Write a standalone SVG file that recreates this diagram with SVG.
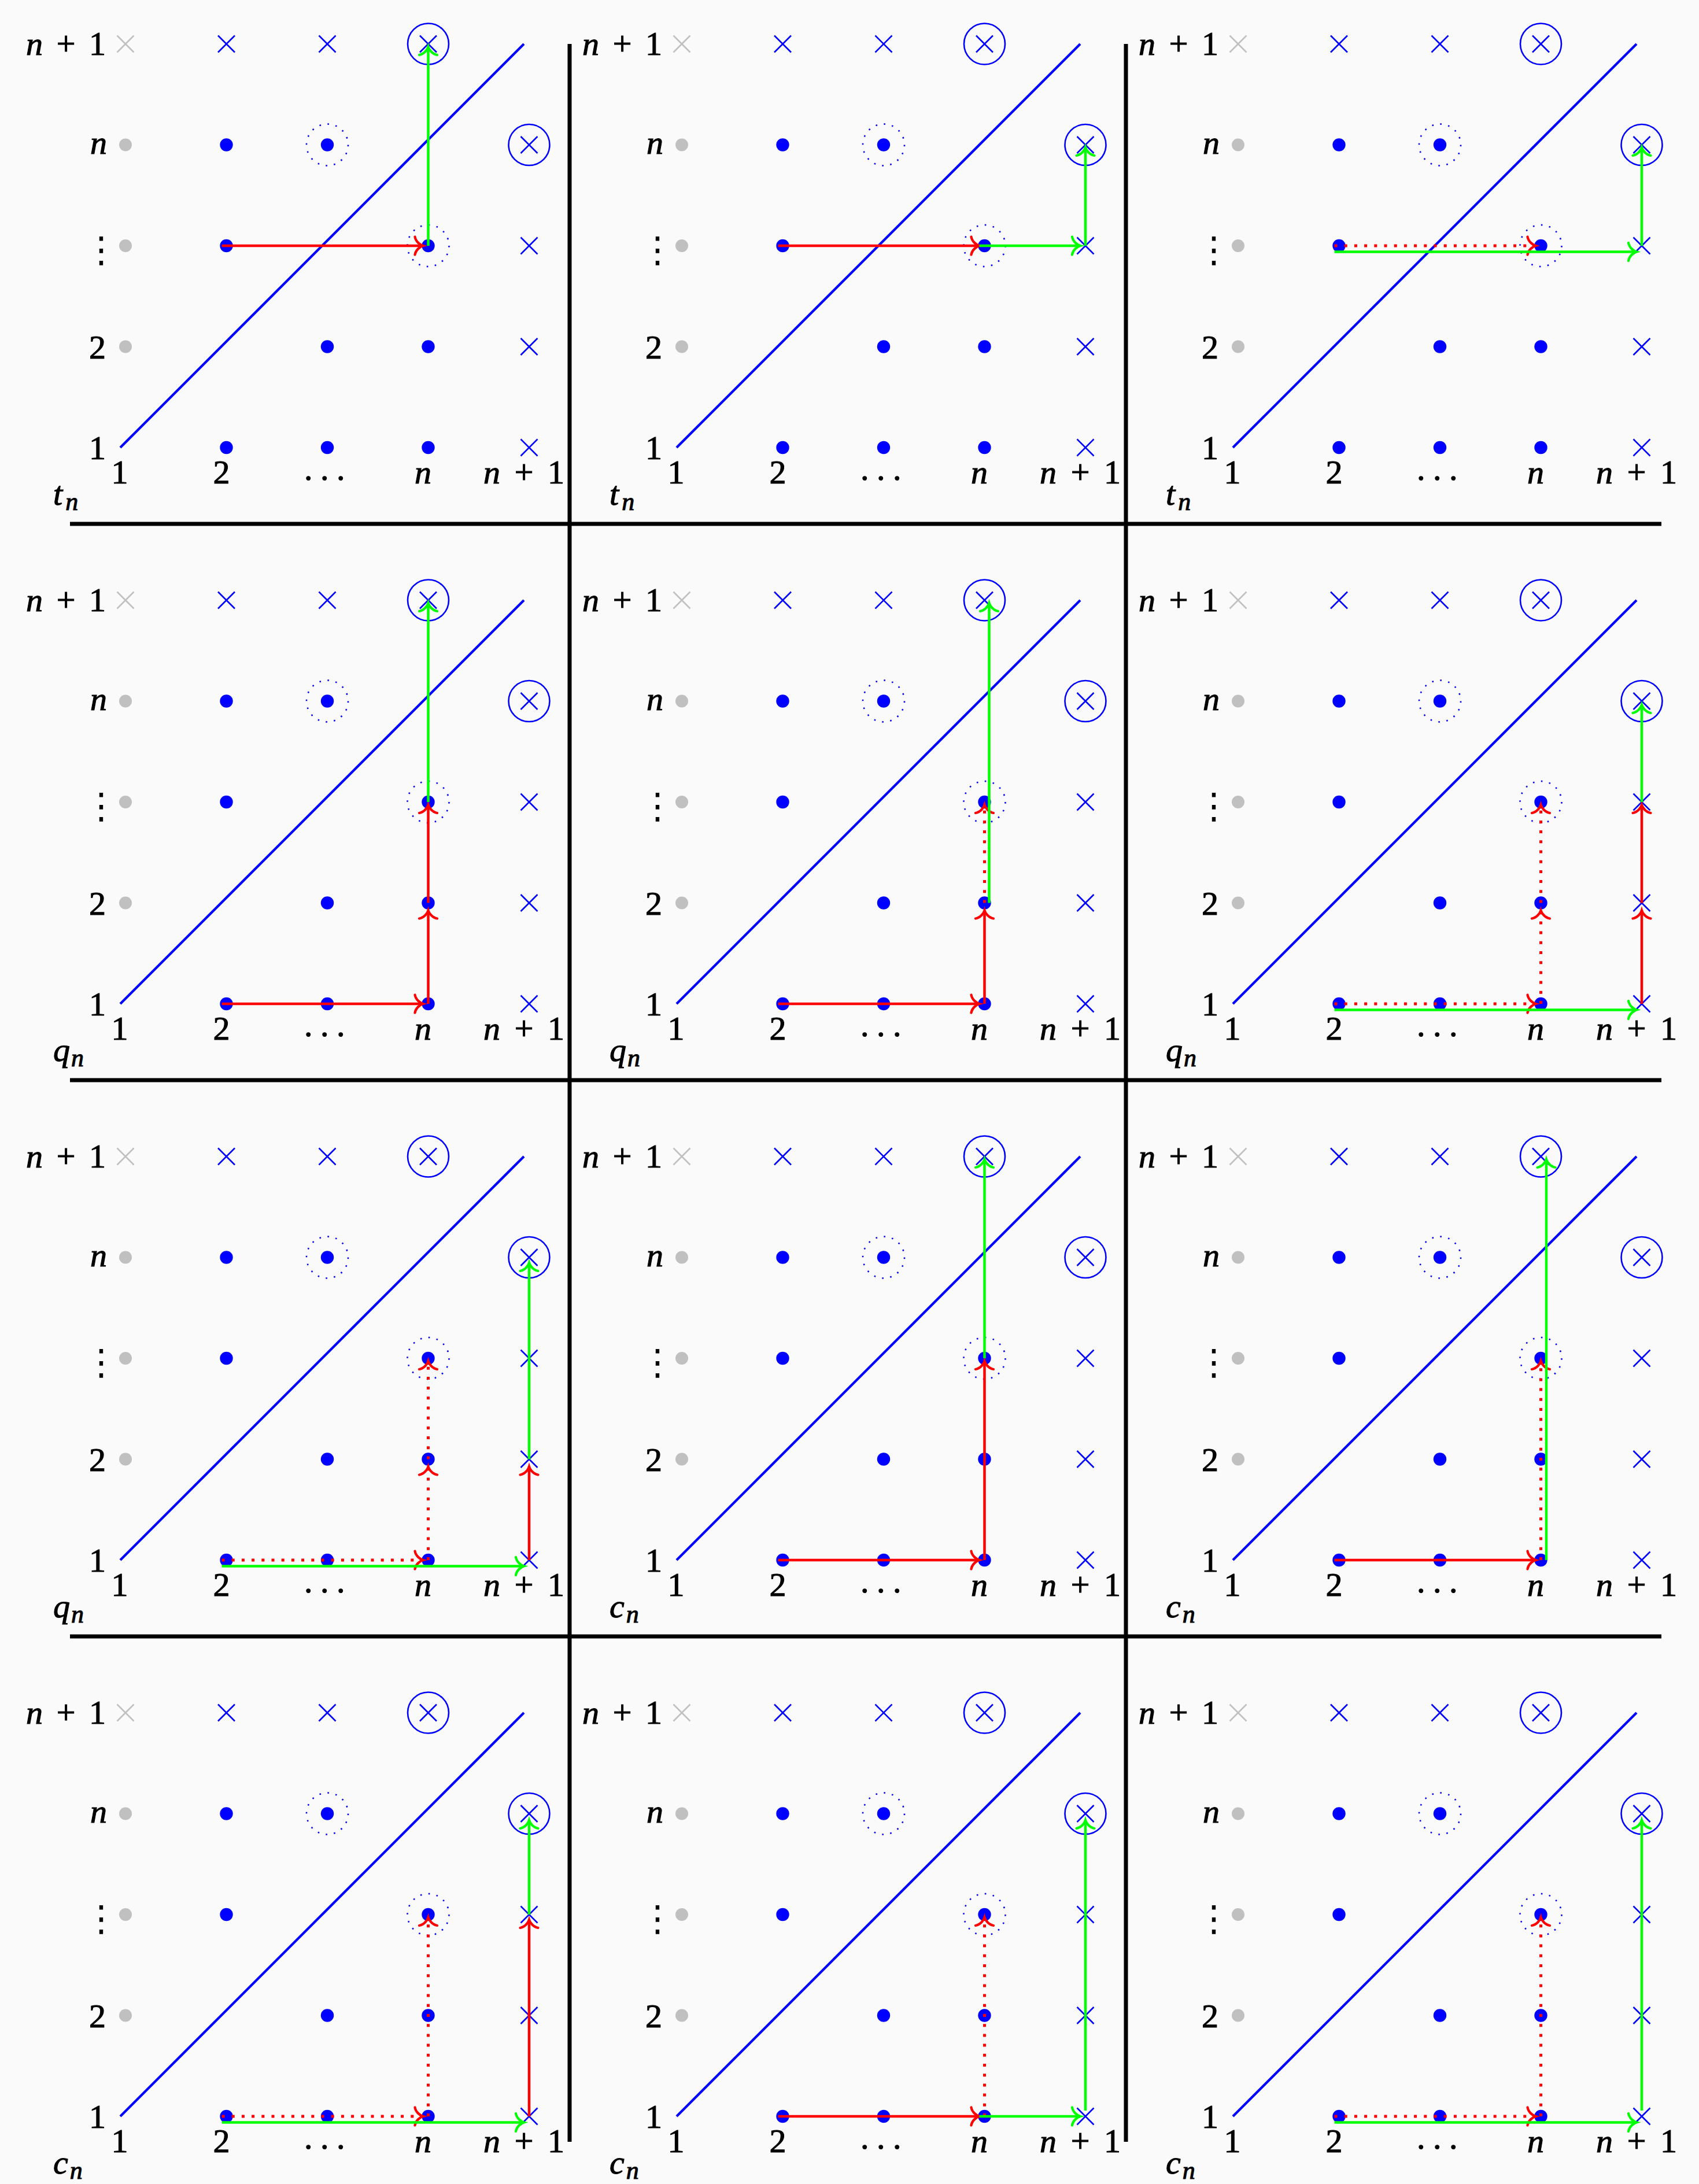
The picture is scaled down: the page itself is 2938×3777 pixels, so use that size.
<svg xmlns="http://www.w3.org/2000/svg" xmlns:xlink="http://www.w3.org/1999/xlink" width="2938" height="3777" viewBox="0 0 2938 3777">
<style>
.bg{fill:#fafafa}
.sep{stroke:#000;stroke-width:7;fill:none}
.diag{stroke:#0000ff;stroke-width:4.3;fill:none}
.bx{stroke:#0000ff;stroke-width:2.6;fill:none}
.gx{stroke:#c0c0c0;stroke-width:2.6;fill:none}
.bd{fill:#0000ff}
.gd{fill:#c0c0c0}
.dc{stroke:#0000ff;stroke-width:2.6;fill:none;stroke-dasharray:2.6 11.54}
.t{font-family:"Liberation Serif","Times New Roman",serif;font-size:58px;fill:#000;stroke:#000;stroke-width:1.1px}
.i{font-style:italic}
.e{text-anchor:end}
.m{text-anchor:middle}
.v{font-family:"DejaVu Sans",sans-serif;font-size:62px;text-anchor:middle;fill:#000}
.dots{letter-spacing:13.5px}
.sub{font-size:44px}
.r{stroke:#ff0000;stroke-width:4.5;fill:none;marker-end:url(#hr)}
.g{stroke:#00ff00;stroke-width:4.5;fill:none;marker-end:url(#hg)}
.d{stroke-width:5;stroke-dasharray:5 12.2}
</style>
<defs>
<marker id="hr" markerUnits="userSpaceOnUse" orient="auto" markerWidth="40" markerHeight="40" viewBox="-20 -20 40 40" refX="0" refY="0" overflow="visible">
<path d="M-14,-15.5 C-12.5,-7 -5,-1.5 0,0 C-5,1.5 -12.5,7 -14,15.5" fill="none" stroke="#ff0000" stroke-width="4.3" stroke-linecap="round" stroke-dasharray="none"/>
</marker>
<marker id="hg" markerUnits="userSpaceOnUse" orient="auto" markerWidth="40" markerHeight="40" viewBox="-20 -20 40 40" refX="0" refY="0" overflow="visible">
<path d="M-14,-15.5 C-12.5,-7 -5,-1.5 0,0 C-5,1.5 -12.5,7 -14,15.5" fill="none" stroke="#00ff00" stroke-width="4.3" stroke-linecap="round" stroke-dasharray="none"/>
</marker>
<g id="marks">
<line class="diag" x1="-9" y1="698" x2="689" y2="0"/>
<path class="gx" d="M-14.5,-14.5l29,29M-14.5,14.5l29,-29"/>
<circle class="gd" cx="0" cy="174.5" r="11"/>
<circle class="gd" cx="0" cy="349" r="11"/>
<circle class="gd" cx="0" cy="523.5" r="11"/>
<path class="bx" d="M160,-14.5l29,29M160,14.5l29,-29M334.5,-14.5l29,29M334.5,14.5l29,-29M509,-14.5l29,29M509,14.5l29,-29M683.5,160l29,29M683.5,189l29,-29M683.5,334.5l29,29M683.5,363.5l29,-29M683.5,509l29,29M683.5,538l29,-29M683.5,683.5l29,29M683.5,712.5l29,-29"/>
<circle class="bx" cx="523.5" cy="0" r="35.5"/>
<circle class="bx" cx="698" cy="174.5" r="35.5"/>
<circle class="bd" cx="174.5" cy="174.5" r="11.2"/>
<circle class="bd" cx="349" cy="174.5" r="11.2"/>
<circle class="bd" cx="174.5" cy="349" r="11.2"/>
<circle class="bd" cx="523.5" cy="349" r="11.2"/>
<circle class="bd" cx="349" cy="523.5" r="11.2"/>
<circle class="bd" cx="523.5" cy="523.5" r="11.2"/>
<circle class="bd" cx="174.5" cy="698" r="11.2"/>
<circle class="bd" cx="349" cy="698" r="11.2"/>
<circle class="bd" cx="523.5" cy="698" r="11.2"/>
<circle class="dc" cx="349" cy="174.5" r="36"/>
<circle class="dc" cx="523.5" cy="349" r="36"/>
</g>
</defs>
<rect class="bg" x="0" y="0" width="2938" height="3777"/>
<g id="separators">
<path class="sep" d="M121,906H2873M121,1868H2873M121,2830H2873M985,76V3704M1947,76V3704"/>
</g>

<g id="panel-1-1" transform="translate(217,76)">
<use href="#marks"/>
<text class="t e" x="-34" y="19" textLength="138"><tspan class="i">n</tspan> + 1</text>
<text class="t i e" x="-32" y="189.5">n</text>
<text class="v" x="-42" y="377">⋮</text>
<text class="t e" x="-34" y="543.5">2</text>
<text class="t e" x="-34" y="718">1</text>
<text class="t m" x="-10" y="760">1</text>
<text class="t m" x="166" y="760">2</text>
<text class="t m dots" x="351" y="754">...</text>
<text class="t i m" x="514.5" y="760">n</text>
<text class="t m" x="689" y="760" textLength="140"><tspan class="i">n</tspan> + 1</text>
<text class="t i" x="-125" y="797">t<tspan class="sub" dx="5" dy="9">n</tspan></text>
</g>
<g id="panel-1-2" transform="translate(1179,76)">
<use href="#marks"/>
<text class="t e" x="-34" y="19" textLength="138"><tspan class="i">n</tspan> + 1</text>
<text class="t i e" x="-32" y="189.5">n</text>
<text class="v" x="-42" y="377">⋮</text>
<text class="t e" x="-34" y="543.5">2</text>
<text class="t e" x="-34" y="718">1</text>
<text class="t m" x="-10" y="760">1</text>
<text class="t m" x="166" y="760">2</text>
<text class="t m dots" x="351" y="754">...</text>
<text class="t i m" x="514.5" y="760">n</text>
<text class="t m" x="689" y="760" textLength="140"><tspan class="i">n</tspan> + 1</text>
<text class="t i" x="-125" y="797">t<tspan class="sub" dx="5" dy="9">n</tspan></text>
</g>
<g id="panel-1-3" transform="translate(2141,76)">
<use href="#marks"/>
<text class="t e" x="-34" y="19" textLength="138"><tspan class="i">n</tspan> + 1</text>
<text class="t i e" x="-32" y="189.5">n</text>
<text class="v" x="-42" y="377">⋮</text>
<text class="t e" x="-34" y="543.5">2</text>
<text class="t e" x="-34" y="718">1</text>
<text class="t m" x="-10" y="760">1</text>
<text class="t m" x="166" y="760">2</text>
<text class="t m dots" x="351" y="754">...</text>
<text class="t i m" x="514.5" y="760">n</text>
<text class="t m" x="689" y="760" textLength="140"><tspan class="i">n</tspan> + 1</text>
<text class="t i" x="-125" y="797">t<tspan class="sub" dx="5" dy="9">n</tspan></text>
</g>

<g id="panel-2-1" transform="translate(217,1038)">
<use href="#marks"/>
<text class="t e" x="-34" y="19" textLength="138"><tspan class="i">n</tspan> + 1</text>
<text class="t i e" x="-32" y="189.5">n</text>
<text class="v" x="-42" y="377">⋮</text>
<text class="t e" x="-34" y="543.5">2</text>
<text class="t e" x="-34" y="718">1</text>
<text class="t m" x="-10" y="760">1</text>
<text class="t m" x="166" y="760">2</text>
<text class="t m dots" x="351" y="754">...</text>
<text class="t i m" x="514.5" y="760">n</text>
<text class="t m" x="689" y="760" textLength="140"><tspan class="i">n</tspan> + 1</text>
<text class="t i" x="-125" y="797">q<tspan class="sub" dx="2" dy="9">n</tspan></text>
</g>
<g id="panel-2-2" transform="translate(1179,1038)">
<use href="#marks"/>
<text class="t e" x="-34" y="19" textLength="138"><tspan class="i">n</tspan> + 1</text>
<text class="t i e" x="-32" y="189.5">n</text>
<text class="v" x="-42" y="377">⋮</text>
<text class="t e" x="-34" y="543.5">2</text>
<text class="t e" x="-34" y="718">1</text>
<text class="t m" x="-10" y="760">1</text>
<text class="t m" x="166" y="760">2</text>
<text class="t m dots" x="351" y="754">...</text>
<text class="t i m" x="514.5" y="760">n</text>
<text class="t m" x="689" y="760" textLength="140"><tspan class="i">n</tspan> + 1</text>
<text class="t i" x="-125" y="797">q<tspan class="sub" dx="2" dy="9">n</tspan></text>
</g>
<g id="panel-2-3" transform="translate(2141,1038)">
<use href="#marks"/>
<text class="t e" x="-34" y="19" textLength="138"><tspan class="i">n</tspan> + 1</text>
<text class="t i e" x="-32" y="189.5">n</text>
<text class="v" x="-42" y="377">⋮</text>
<text class="t e" x="-34" y="543.5">2</text>
<text class="t e" x="-34" y="718">1</text>
<text class="t m" x="-10" y="760">1</text>
<text class="t m" x="166" y="760">2</text>
<text class="t m dots" x="351" y="754">...</text>
<text class="t i m" x="514.5" y="760">n</text>
<text class="t m" x="689" y="760" textLength="140"><tspan class="i">n</tspan> + 1</text>
<text class="t i" x="-125" y="797">q<tspan class="sub" dx="2" dy="9">n</tspan></text>
</g>

<g id="panel-3-1" transform="translate(217,2000)">
<use href="#marks"/>
<text class="t e" x="-34" y="19" textLength="138"><tspan class="i">n</tspan> + 1</text>
<text class="t i e" x="-32" y="189.5">n</text>
<text class="v" x="-42" y="377">⋮</text>
<text class="t e" x="-34" y="543.5">2</text>
<text class="t e" x="-34" y="718">1</text>
<text class="t m" x="-10" y="760">1</text>
<text class="t m" x="166" y="760">2</text>
<text class="t m dots" x="351" y="754">...</text>
<text class="t i m" x="514.5" y="760">n</text>
<text class="t m" x="689" y="760" textLength="140"><tspan class="i">n</tspan> + 1</text>
<text class="t i" x="-125" y="797">q<tspan class="sub" dx="2" dy="9">n</tspan></text>
</g>
<g id="panel-3-2" transform="translate(1179,2000)">
<use href="#marks"/>
<text class="t e" x="-34" y="19" textLength="138"><tspan class="i">n</tspan> + 1</text>
<text class="t i e" x="-32" y="189.5">n</text>
<text class="v" x="-42" y="377">⋮</text>
<text class="t e" x="-34" y="543.5">2</text>
<text class="t e" x="-34" y="718">1</text>
<text class="t m" x="-10" y="760">1</text>
<text class="t m" x="166" y="760">2</text>
<text class="t m dots" x="351" y="754">...</text>
<text class="t i m" x="514.5" y="760">n</text>
<text class="t m" x="689" y="760" textLength="140"><tspan class="i">n</tspan> + 1</text>
<text class="t i" x="-125" y="797">c<tspan class="sub" dx="3" dy="9">n</tspan></text>
</g>
<g id="panel-3-3" transform="translate(2141,2000)">
<use href="#marks"/>
<text class="t e" x="-34" y="19" textLength="138"><tspan class="i">n</tspan> + 1</text>
<text class="t i e" x="-32" y="189.5">n</text>
<text class="v" x="-42" y="377">⋮</text>
<text class="t e" x="-34" y="543.5">2</text>
<text class="t e" x="-34" y="718">1</text>
<text class="t m" x="-10" y="760">1</text>
<text class="t m" x="166" y="760">2</text>
<text class="t m dots" x="351" y="754">...</text>
<text class="t i m" x="514.5" y="760">n</text>
<text class="t m" x="689" y="760" textLength="140"><tspan class="i">n</tspan> + 1</text>
<text class="t i" x="-125" y="797">c<tspan class="sub" dx="3" dy="9">n</tspan></text>
</g>

<g id="panel-4-1" transform="translate(217,2962)">
<use href="#marks"/>
<text class="t e" x="-34" y="19" textLength="138"><tspan class="i">n</tspan> + 1</text>
<text class="t i e" x="-32" y="189.5">n</text>
<text class="v" x="-42" y="377">⋮</text>
<text class="t e" x="-34" y="543.5">2</text>
<text class="t e" x="-34" y="718">1</text>
<text class="t m" x="-10" y="760">1</text>
<text class="t m" x="166" y="760">2</text>
<text class="t m dots" x="351" y="754">...</text>
<text class="t i m" x="514.5" y="760">n</text>
<text class="t m" x="689" y="760" textLength="140"><tspan class="i">n</tspan> + 1</text>
<text class="t i" x="-125" y="797">c<tspan class="sub" dx="3" dy="9">n</tspan></text>
</g>
<g id="panel-4-2" transform="translate(1179,2962)">
<use href="#marks"/>
<text class="t e" x="-34" y="19" textLength="138"><tspan class="i">n</tspan> + 1</text>
<text class="t i e" x="-32" y="189.5">n</text>
<text class="v" x="-42" y="377">⋮</text>
<text class="t e" x="-34" y="543.5">2</text>
<text class="t e" x="-34" y="718">1</text>
<text class="t m" x="-10" y="760">1</text>
<text class="t m" x="166" y="760">2</text>
<text class="t m dots" x="351" y="754">...</text>
<text class="t i m" x="514.5" y="760">n</text>
<text class="t m" x="689" y="760" textLength="140"><tspan class="i">n</tspan> + 1</text>
<text class="t i" x="-125" y="797">c<tspan class="sub" dx="3" dy="9">n</tspan></text>
</g>
<g id="panel-4-3" transform="translate(2141,2962)">
<use href="#marks"/>
<text class="t e" x="-34" y="19" textLength="138"><tspan class="i">n</tspan> + 1</text>
<text class="t i e" x="-32" y="189.5">n</text>
<text class="v" x="-42" y="377">⋮</text>
<text class="t e" x="-34" y="543.5">2</text>
<text class="t e" x="-34" y="718">1</text>
<text class="t m" x="-10" y="760">1</text>
<text class="t m" x="166" y="760">2</text>
<text class="t m dots" x="351" y="754">...</text>
<text class="t i m" x="514.5" y="760">n</text>
<text class="t m" x="689" y="760" textLength="140"><tspan class="i">n</tspan> + 1</text>
<text class="t i" x="-125" y="797">c<tspan class="sub" dx="3" dy="9">n</tspan></text>
</g>

<g id="connectors">
<g id="arrows-1-1" transform="translate(217,76)">
<path class="r" d="M166.5,349H514.5"/>
<path class="g" d="M523.5,349V5"/>
</g>
<g id="arrows-1-2" transform="translate(1179,76)">
<path class="r" d="M166.5,349H514.5"/>
<path class="g" d="M514.5,349H689"/>
<path class="g" d="M698,349V179"/>
</g>
<g id="arrows-1-3" transform="translate(2141,76)">
<path class="r d" d="M166.5,349H514.5"/>
<path class="g" d="M166.5,359.5H689"/>
<path class="g" d="M698,349V179"/>
</g>
<g id="arrows-2-1" transform="translate(217,1038)">
<path class="r" d="M166.5,698H514.5"/>
<path class="r" d="M523.5,698V536.5"/>
<path class="r" d="M523.5,523.5V354"/>
<path class="g" d="M523.5,349V5"/>
</g>
<g id="arrows-2-2" transform="translate(1179,1038)">
<path class="r" d="M166.5,698H514.5"/>
<path class="r" d="M523.5,698V536.5"/>
<path class="r d" d="M523.5,523.5V354"/>
<path class="g" d="M531.5,523.5V5"/>
</g>
<g id="arrows-2-3" transform="translate(2141,1038)">
<path class="r d" d="M166.5,698H514.5"/>
<path class="r d" d="M523.5,698V536.5"/>
<path class="r d" d="M523.5,523.5V354"/>
<path class="g" d="M166.5,708.5H689"/>
<path class="r" d="M698,698V536.5"/>
<path class="r" d="M698,523.5V354"/>
<path class="g" d="M698,349V181"/>
</g>
<g id="arrows-3-1" transform="translate(217,2000)">
<path class="r d" d="M166.5,698H514.5"/>
<path class="r d" d="M523.5,698V536.5"/>
<path class="r d" d="M523.5,523.5V354"/>
<path class="g" d="M166.5,708.5H689"/>
<path class="r" d="M698,698V536.5"/>
<path class="g" d="M698,523.5V184"/>
</g>
<g id="arrows-3-2" transform="translate(1179,2000)">
<path class="r" d="M166.5,698H514.5"/>
<path class="r" d="M523.5,698V354"/>
<path class="g" d="M523.5,349V5"/>
</g>
<g id="arrows-3-3" transform="translate(2141,2000)">
<path class="r" d="M166.5,698H514.5"/>
<path class="r d" d="M523.5,698V354"/>
<path class="g" d="M533,698V5"/>
</g>
<g id="arrows-4-1" transform="translate(217,2962)">
<path class="r d" d="M166.5,698H514.5"/>
<path class="r d" d="M523.5,698V354"/>
<path class="g" d="M166.5,708.5H689"/>
<path class="r" d="M698,698V358"/>
<path class="g" d="M698,349V186"/>
</g>
<g id="arrows-4-2" transform="translate(1179,2962)">
<path class="r" d="M166.5,698H514.5"/>
<path class="r d" d="M523.5,698V354"/>
<path class="g" d="M514.5,698H689"/>
<path class="g" d="M698,688V186"/>
</g>
<g id="arrows-4-3" transform="translate(2141,2962)">
<path class="r d" d="M166.5,698H514.5"/>
<path class="r d" d="M523.5,698V354"/>
<path class="g" d="M166.5,708.5H689"/>
<path class="g" d="M698,688V186"/>
</g>
</g>
</svg>
